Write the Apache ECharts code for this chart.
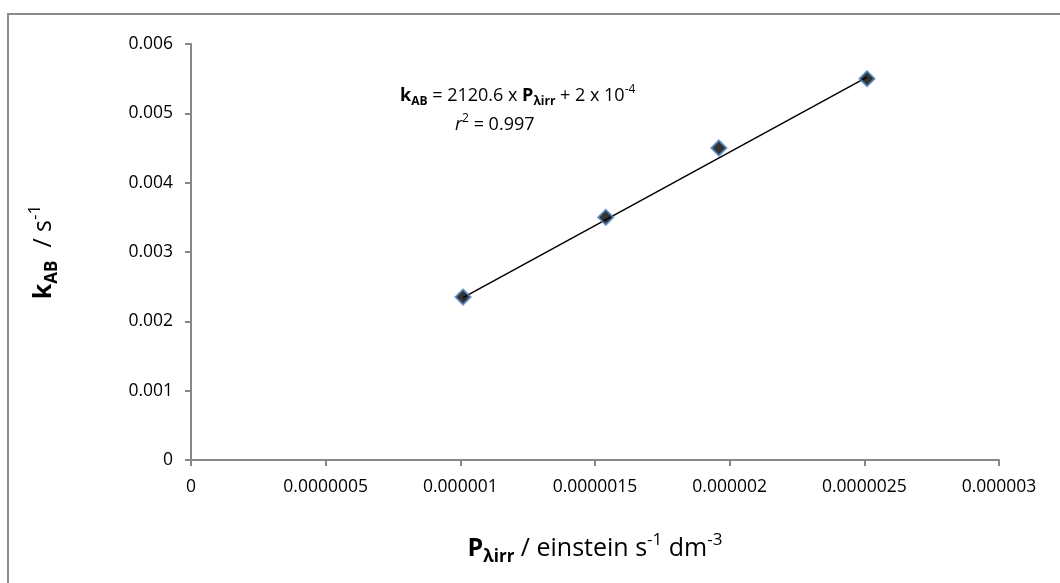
<!DOCTYPE html>
<html>
<head>
<meta charset="utf-8">
<script src="https://cdn.jsdelivr.net/npm/echarts@6/dist/echarts.min.js"></script>
<style>
  html, body { margin: 0; padding: 0; background: #fff; }
  #main { width: 1060px; height: 583px; }
</style>
</head>
<body>
<div id="main"></div>
<script>
// data
var irradiance = [0.00000101, 0.00000154, 0.00000196, 0.00000251];
var rateConst = [0.00235, 0.0035, 0.0045, 0.0055];
var xTickLabels = ['0', '0.0000005', '0.000001', '0.0000015', '0.000002', '0.0000025', '0.000003'];
var yTickLabels = ['0', '0.001', '0.002', '0.003', '0.004', '0.005', '0.006'];
// linear trendline as printed on the chart
var slope = 2120.6;
var intercept = 0.0002;

var points = irradiance.map(function (x, i) { return [x, rateConst[i]]; });
var x0 = irradiance[0], x1 = irradiance[irradiance.length - 1];
var trend = [[x0, slope * x0 + intercept], [x1, slope * x1 + intercept]];

var font = '"Open Sans", "Noto Sans", sans-serif';
var axisGray = '#868686';

// rich styles for axis titles (sub/superscripts)
var titleRich = {
    b: { fontSize: 25, fontWeight: 'bold', color: '#000', lineHeight: 34, fontFamily: font },
    sb: { fontSize: 17, fontWeight: 'bold', color: '#000', lineHeight: 14, verticalAlign: 'bottom', fontFamily: font },
    n: { fontSize: 25, color: '#000', lineHeight: 34, fontFamily: font },
    sp: { fontSize: 17, color: '#000', lineHeight: 16, verticalAlign: 'top', fontFamily: font }
};

var chart = echarts.init(document.getElementById('main'));
var option = {
    animation: false,
    backgroundColor: '#fff',
    textStyle: { fontFamily: font },
    grid: { left: 191, right: 61, top: 44, bottom: 123 },
    xAxis: {
        type: 'value',
        min: 0,
        max: 0.000003,
        interval: 0.0000005,
        splitLine: { show: false },
        axisLine: { lineStyle: { color: axisGray, width: 2 } },
        axisTick: { show: true, length: 6, lineStyle: { color: axisGray, width: 2 } },
        axisLabel: {
            color: '#000', fontSize: 17.5, margin: 18, fontFamily: font,
            formatter: function (v, i) { return xTickLabels[i]; }
        },
        name: '{b|P}{sb|λirr}{n| / einstein s}{sp|-1}{n| dm}{sp|-3}',
        nameLocation: 'middle',
        nameGap: 72,
        nameTextStyle: { fontSize: 25, color: '#000', fontFamily: font, rich: titleRich }
    },
    yAxis: {
        type: 'value',
        min: 0,
        max: 0.006,
        interval: 0.001,
        splitLine: { show: false },
        axisLine: { show: true, lineStyle: { color: axisGray, width: 2 } },
        axisTick: { show: true, length: 6, lineStyle: { color: axisGray, width: 2 } },
        axisLabel: {
            color: '#000', fontSize: 17.5, margin: 18, fontFamily: font,
            formatter: function (v, i) { return yTickLabels[i]; }
        },
        name: '{b|k}{sb|AB}{n|  / s}{sp|-1}',
        nameLocation: 'middle',
        nameRotate: 90,
        nameGap: 130,
        nameTextStyle: { fontSize: 25, color: '#000', fontFamily: font, rich: titleRich }
    },
    graphic: [
        {
            type: 'rect',
            shape: { x: 8, y: 14, width: 1200, height: 800 },
            style: { fill: 'none', stroke: '#8c8c8c', lineWidth: 2 },
            silent: true,
            z: 0
        },
        {
            type: 'text',
            left: 400,
            top: 84,
            style: {
                text: '{b|k}{sb|AB}{n| = 2120.6 x }{b|P}{sb|λirr}{n| + 2 x 10}{sp|-4}',
                fontSize: 18,
                rich: {
                    b: { fontSize: 18, fontWeight: 'bold', fill: '#000', lineHeight: 24, fontFamily: font },
                    sb: { fontSize: 12, fontWeight: 'bold', fill: '#000', lineHeight: 10, verticalAlign: 'bottom', fontFamily: font },
                    n: { fontSize: 18, fill: '#000', lineHeight: 24, fontFamily: font },
                    sp: { fontSize: 12, fill: '#000', lineHeight: 12, verticalAlign: 'top', fontFamily: font }
                }
            }
        },
        {
            type: 'text',
            left: 455,
            top: 113,
            style: {
                text: '{i|r}{sp|2}{n| = 0.997}',
                fontSize: 18,
                rich: {
                    i: { fontSize: 18, fontStyle: 'italic', fill: '#000', lineHeight: 24, fontFamily: font },
                    n: { fontSize: 18, fill: '#000', lineHeight: 24, fontFamily: font },
                    sp: { fontSize: 12, fill: '#000', lineHeight: 12, verticalAlign: 'top', fontFamily: font }
                }
            }
        }
    ],
    series: [
        {
            name: 'trend',
            type: 'line',
            data: trend,
            symbol: 'none',
            lineStyle: { color: '#000', width: 1.5 },
            z: 2
        },
        {
            name: 'kAB',
            type: 'scatter',
            data: points,
            symbol: 'diamond',
            symbolSize: 15,
            itemStyle: { color: '#000', borderColor: '#4f81bd', borderWidth: 2 },
            z: 3
        }
    ]
};
chart.setOption(option);
</script>
</body>
</html>
